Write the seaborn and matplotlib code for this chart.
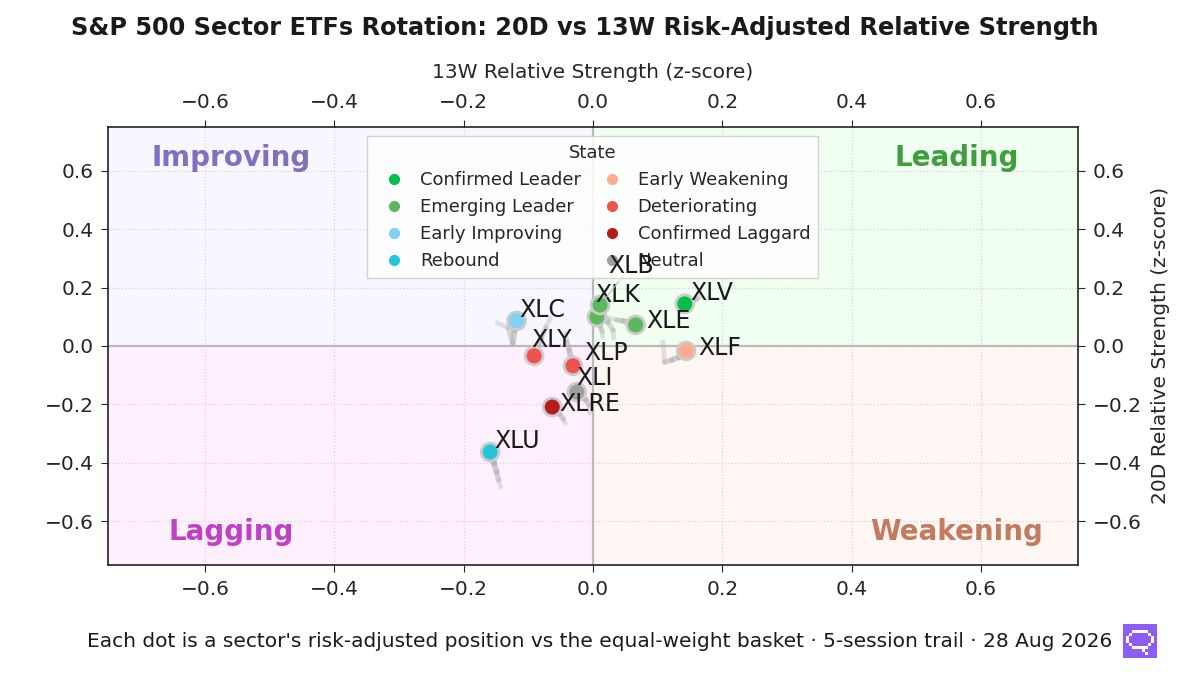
import numpy as np
import pandas as pd
import matplotlib
matplotlib.use("Agg")
import matplotlib.pyplot as plt
from matplotlib.lines import Line2D
from matplotlib.patches import Rectangle
import seaborn as sns

# sector rotation scatter: 20D vs 13W z-scores, 5-session trail per sector

tickers = ["XLV", "XLF", "XLE", "XLK", "XLB", "XLC", "XLY", "XLP", "XLI", "XLRE", "XLU"]
states = ["Confirmed Leader", "Early Weakening", "Emerging Leader", "Emerging Leader",
          "Emerging Leader", "Early Improving", "Deteriorating", "Deteriorating",
          "Neutral", "Confirmed Laggard", "Rebound"]

# 13W (x) trail, oldest -> current
trail_13w = [
    [0.166, 0.161, 0.155, 0.149, 0.142],
    [0.108, 0.111, 0.122, 0.134, 0.144],
    [0.026, 0.037, 0.046, 0.056, 0.066],
    [0.015, 0.014, 0.011, 0.008, 0.006],
    [0.032, 0.031, 0.023, 0.015, 0.011],
    [-0.148, -0.131, -0.124, -0.121, -0.118],
    [-0.066, -0.073, -0.080, -0.087, -0.091],
    [-0.043, -0.040, -0.037, -0.034, -0.031],
    [-0.005, -0.006, -0.011, -0.019, -0.025],
    [-0.043, -0.046, -0.052, -0.058, -0.063],
    [-0.143, -0.146, -0.149, -0.153, -0.159],
]
# 20D (y) trail, oldest -> current
trail_20d = [
    [0.171, 0.161, 0.154, 0.150, 0.144],
    [0.014, -0.055, -0.048, -0.038, -0.017],
    [0.096, 0.089, 0.086, 0.079, 0.072],
    [0.031, 0.051, 0.068, 0.086, 0.099],
    [0.027, 0.055, 0.082, 0.113, 0.140],
    [0.079, 0.062, 0.010, 0.055, 0.086],
    [0.096, 0.062, 0.027, -0.007, -0.034],
    [0.041, 0.014, -0.014, -0.041, -0.068],
    [-0.230, -0.202, -0.185, -0.171, -0.158],
    [-0.264, -0.250, -0.233, -0.219, -0.209],
    [-0.483, -0.459, -0.432, -0.401, -0.363],
]

state_order = ["Confirmed Leader", "Emerging Leader", "Early Improving", "Rebound",
               "Early Weakening", "Deteriorating", "Confirmed Laggard", "Neutral"]
state_colors = ["#00c04b", "#5cb85c", "#7fd3f7", "#26c6da",
                "#ffab91", "#ef5350", "#b71c1c", "#9e9e9e"]
palette = dict(zip(state_order, state_colors))

# label offsets in pixels from the dot
label_off = {"XLV": (5, 11), "XLF": (12, 3), "XLE": (11, 4), "XLK": (-2, 22),
             "XLB": (8, 39), "XLC": (3, 11), "XLY": (-3, 16), "XLP": (11, 13),
             "XLI": (-1, 14), "XLRE": (7, 3), "XLU": (4, 11)}

df = pd.DataFrame({
    "ticker": tickers,
    "state": states,
    "x": [t[-1] for t in trail_13w],
    "y": [t[-1] for t in trail_20d],
})

sns.set_style("ticks")
plt.rcParams["font.family"] = ["DejaVu Sans"]

fig = plt.figure(figsize=(12, 6.75), dpi=100)
ax = fig.add_axes([0.09, 0.163, 0.8083, 0.649])

lim = 0.75
ax.set_xlim(-lim, lim)
ax.set_ylim(-lim, lim)

# quadrant backgrounds
ax.add_patch(Rectangle((-lim, 0), lim, lim, color="#f8f6ff", zorder=0, lw=0))
ax.add_patch(Rectangle((0, 0), lim, lim, color="#f0fff0", zorder=0, lw=0))
ax.add_patch(Rectangle((-lim, -lim), lim, lim, color="#fff0fe", zorder=0, lw=0))
ax.add_patch(Rectangle((0, -lim), lim, lim, color="#fff7f3", zorder=0, lw=0))

ax.grid(True, linestyle=":", color="#d6d2e0", linewidth=0.9, zorder=1)
ax.set_axisbelow(True)
ax.axhline(0, color="#bcb8c2", lw=1.6, zorder=1.5)
ax.axvline(0, color="#bcb8c2", lw=1.6, zorder=1.5)

# quadrant names
qfont = dict(fontsize=20, fontweight="bold", ha="center", va="center", zorder=2)
ax.text(-0.56, 0.645, "Improving", color="#8070c0", **qfont)
ax.text(0.563, 0.645, "Leading", color="#3f9f3f", **qfont)
ax.text(-0.56, -0.637, "Lagging", color="#c040c8", **qfont)
ax.text(0.563, -0.637, "Weakening", color="#c47a5e", **qfont)

# trails
for xs, ys in zip(trail_13w, trail_20d):
    n = len(xs) - 1
    for i in range(n):
        ax.plot(xs[i:i + 2], ys[i:i + 2], color="#b0b0b0",
                alpha=0.35 + 0.5 * i / n, lw=3.5 + 1.3 * i / n,
                solid_capstyle="round", zorder=3)

sns.scatterplot(data=df, x="x", y="y", hue="state", hue_order=state_order,
                palette=palette, s=165, edgecolor="#cccccc", linewidth=2.0,
                legend=False, zorder=4, ax=ax)

for _, r in df.iterrows():
    dx, dy = label_off[r["ticker"]]
    kw = {}
    if r["ticker"] == "XLB":
        kw["arrowprops"] = dict(arrowstyle="-", color="#bbbbbb", lw=0.8, shrinkA=0, shrinkB=6)
    ax.annotate(r["ticker"], (r["x"], r["y"]), xytext=(dx, dy),
                textcoords="offset pixels", ha="left", va="center",
                fontsize=17, color="#1a1a1a", zorder=7, **kw)

handles = [Line2D([], [], marker="o", ls="", color=palette[s], markersize=7, label=s)
           for s in state_order]
leg = ax.legend(handles=handles, title="State", ncol=2, loc="upper center",
                fontsize=13, title_fontsize=13, framealpha=0.85, edgecolor="#cccccc",
                fancybox=False, handletextpad=0.45, columnspacing=0.7, borderpad=0.45,
                labelspacing=0.5)
leg.set_zorder(5)

ticks = [-0.6, -0.4, -0.2, 0.0, 0.2, 0.4, 0.6]
ax.set_xticks(ticks)
ax.set_yticks(ticks)
ax.tick_params(axis="both", labelsize=14.5, top=True, labeltop=True,
               right=True, labelright=True, direction="out", length=5, pad=5.5)
ax.xaxis.set_label_position("top")
ax.yaxis.set_label_position("right")
ax.set_xlabel("13W Relative Strength (z-score)", fontsize=14.5, labelpad=11)
ax.set_ylabel("20D Relative Strength (z-score)", fontsize=14.5, labelpad=7)
for sp in ax.spines.values():
    sp.set_color("#222222")
    sp.set_linewidth(1.2)

fig.suptitle("S&P 500 Sector ETFs Rotation: 20D vs 13W Risk-Adjusted Relative Strength",
             fontsize=17.3, fontweight="bold", x=0.4875, y=0.9585, va="center", color="#1a1a1a")
fig.text(0.5, 0.049,
         "Each dot is a sector's risk-adjusted position vs the equal-weight basket · 5-session trail · 28 Aug 2026",
         ha="center", va="center", fontsize=14.5, color="#1a1a1a")

# small logo badge bottom-right
glyph = np.array([
    [0, 0, 0, 0, 0, 0, 0, 0, 0, 0, 0],
    [0, 0, 0, 0, 0, 0, 0, 0, 0, 0, 0],
    [0, 0, 0, 1, 1, 1, 1, 1, 0, 0, 0],
    [0, 0, 1, 0, 0, 0, 0, 0, 1, 0, 0],
    [0, 1, 0, 0, 0, 0, 0, 0, 0, 1, 0],
    [0, 1, 0, 0, 0, 0, 0, 0, 0, 1, 0],
    [0, 0, 1, 0, 0, 0, 0, 0, 1, 0, 0],
    [0, 0, 0, 1, 1, 1, 1, 1, 0, 0, 0],
    [0, 0, 0, 0, 0, 0, 1, 0, 0, 0, 0],
    [0, 0, 0, 0, 0, 0, 0, 1, 0, 0, 0],
    [0, 0, 0, 0, 0, 0, 0, 0, 0, 0, 0],
])
img = np.zeros(glyph.shape + (3,))
img[:] = np.array([139, 92, 246]) / 255
img[glyph == 1] = 1.0
lax = fig.add_axes([1123 / 1200, 1 - 658 / 675, 34 / 1200, 34 / 675])
lax.imshow(img, interpolation="nearest", aspect="auto")
lax.axis("off")

fig.savefig("out.png", dpi=100)
